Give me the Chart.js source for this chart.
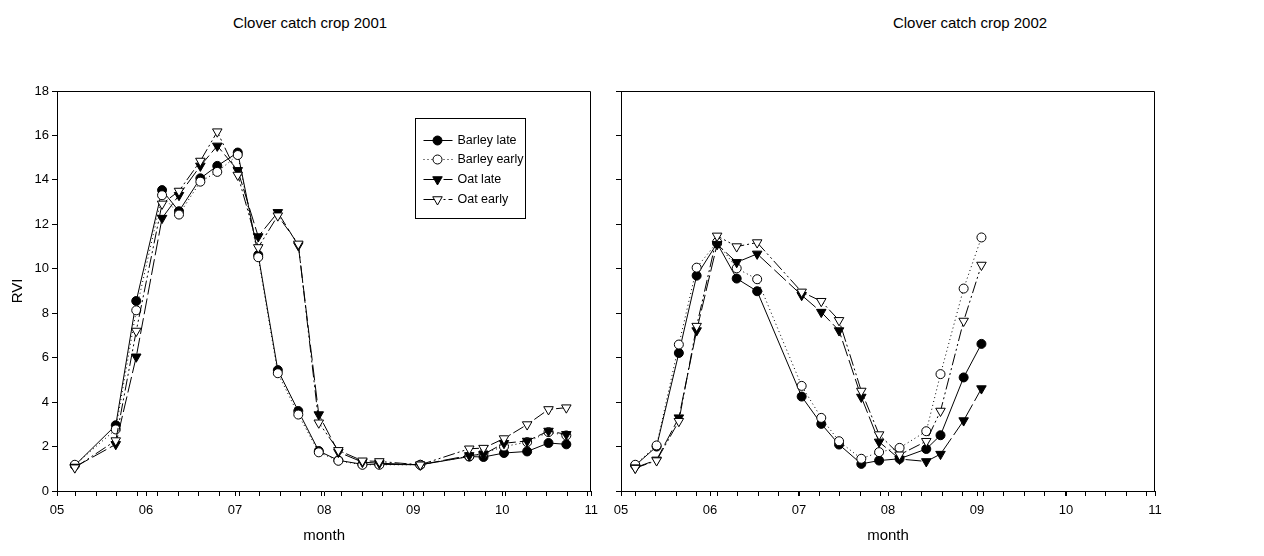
<!DOCTYPE html>
<html>
<head>
<meta charset="utf-8">
<script src="https://cdn.jsdelivr.net/npm/chart.js@4.4.1/dist/chart.umd.min.js"></script>
<style>
  body { margin: 0; background: #fff; width: 1264px; height: 556px; position: relative; overflow: hidden; font-family: Arial, "Liberation Sans", sans-serif; }
  .panel { position: absolute; top: 0; height: 556px; }
  .ttl { position: absolute; top: 14px; font-size: 15px; color: #000; transform: translateX(-50%); white-space: nowrap; }
</style>
</head>
<body>
<div class="ttl" style="left:310px">Clover catch crop 2001</div>
<div class="ttl" style="left:970px">Clover catch crop 2002</div>
<div class="panel" style="left:0;width:605px"><canvas id="c2001"></canvas></div>
<div class="panel" style="left:605px;width:565px"><canvas id="c2002"></canvas></div>
<script>
// tick labels
const monthValues = [5, 6, 7, 8, 9, 10, 11];
const monthLabels = ['05', '06', '07', '08', '09', '10', '11'];
const seriesNames = ['Barley late', 'Barley early', 'Oat late', 'Oat early'];

// 2001 (x = month as decimal)
const dates2001 = [5.20, 5.66, 5.89, 6.18, 6.37, 6.61, 6.80, 7.03, 7.26, 7.48, 7.71, 7.94, 8.16, 8.43, 8.62, 9.08, 9.63, 9.79, 10.02, 10.28, 10.52, 10.72];
const barleyLate2001  = [1.15, 2.96, 8.55, 13.54, 12.59, 14.07, 14.63, 15.23, 10.62, 5.44, 3.60, 1.80, 1.38, 1.20, 1.20, 1.18, 1.55, 1.53, 1.71, 1.78, 2.16, 2.10];
const barleyEarly2001 = [1.18, 2.77, 8.13, 13.31, 12.44, 13.92, 14.36, 15.12, 10.52, 5.30, 3.44, 1.74, 1.36, 1.18, 1.18, 1.18, 1.56, 1.70, 2.00, 2.20, 2.65, 2.50];
const oatLate2001     = [1.08, 2.10, 6.04, 12.28, 13.31, 14.63, 15.53, 14.43, 11.45, 12.54, 11.05, 3.44, 1.75, 1.30, 1.25, 1.18, 1.60, 1.65, 2.15, 2.25, 2.70, 2.55];
const oatEarly2001    = [1.05, 2.27, 7.20, 12.92, 13.50, 14.85, 16.17, 14.22, 10.96, 12.39, 11.12, 3.07, 1.83, 1.36, 1.33, 1.18, 1.90, 1.93, 2.36, 2.99, 3.67, 3.75];

// 2002
const dates2002 = [5.16, 5.40, 5.65, 5.85, 6.08, 6.30, 6.53, 7.03, 7.25, 7.45, 7.70, 7.90, 8.13, 8.43, 8.59, 8.85, 9.05];
const barleyLate2002  = [1.15, 2.00, 6.21, 9.69, 11.15, 9.56, 8.99, 4.25, 3.02, 2.09, 1.22, 1.37, 1.45, 1.89, 2.51, 5.11, 6.62];
const barleyEarly2002 = [1.18, 2.05, 6.59, 10.05, 11.20, 10.02, 9.53, 4.73, 3.29, 2.24, 1.45, 1.75, 1.94, 2.69, 5.26, 9.11, 11.41];
const oatLate2002     = [1.05, 1.40, 3.30, 7.22, 11.10, 10.29, 10.67, 8.81, 8.05, 7.22, 4.23, 2.21, 1.44, 1.33, 1.66, 3.17, 4.61];
const oatEarly2002    = [1.03, 1.37, 3.14, 7.42, 11.48, 11.00, 11.18, 8.96, 8.54, 7.68, 4.50, 2.54, 1.63, 2.24, 3.60, 7.65, 10.17];

// marker / line look per series
const styles = [
  { pointStyle: 'circle',   fill: '#000', dash: [],                  radius: 4.5, rotation: 0 },
  { pointStyle: 'circle',   fill: '#fff', dash: [1, 3],              radius: 4.5, rotation: 0 },
  { pointStyle: 'triangle', fill: '#000', dash: [16, 4],             radius: 5.5, rotation: 180 },
  { pointStyle: 'triangle', fill: '#fff', dash: [12, 3, 2, 3, 2, 3], radius: 5.5, rotation: 180 },
];

function makeDatasets(dates, seriesList) {
  return seriesList.map((vals, i) => ({
    label: seriesNames[i],
    data: dates.map((x, j) => ({ x: x, y: vals[j] })),
    borderColor: '#000',
    borderWidth: 1,
    borderDash: styles[i].dash,
    backgroundColor: styles[i].fill,
    pointStyle: styles[i].pointStyle,
    pointRadius: styles[i].radius,
    pointRotation: styles[i].rotation,
    pointBorderWidth: 1,
    pointBorderColor: '#000',
    pointBackgroundColor: styles[i].fill,
    tension: 0,
    fill: false,
    order: 3 - i, // later series drawn on top
  }));
}

// weekly minor ticks plus month ticks
function weekTicks(start) {
  const t = [];
  for (let v = start; v <= 11.001; v += 7 / 30.44) t.push(v);
  return t;
}

// box around the plot (top + right sides)
const frame = {
  id: 'frame',
  afterDatasetsDraw(chart) {
    const { ctx, chartArea: a } = chart;
    ctx.save();
    ctx.strokeStyle = '#000';
    ctx.lineWidth = 1;
    const l = Math.round(a.left) + 0.5, r = Math.round(a.right) - 0.5;
    const t = Math.round(a.top) + 0.5, b = Math.round(a.bottom);
    ctx.beginPath();
    ctx.moveTo(l, t); ctx.lineTo(r, t); ctx.lineTo(r, b);
    ctx.stroke();
    ctx.restore();
  }
};

// legend box drawn inside the 2001 panel
const legendBox = {
  id: 'legendBox',
  afterDraw(chart) {
    const { ctx, chartArea: a } = chart;
    const bx = Math.round(a.left + 358) + 0.5, by = Math.round(a.top + 27) + 0.5;
    ctx.save();
    ctx.strokeStyle = '#000';
    ctx.lineWidth = 1;
    ctx.strokeRect(bx, by, 110, 100);
    ctx.font = '12.5px Arial, "Liberation Sans", sans-serif';
    ctx.textBaseline = 'middle';
    chart.data.datasets.forEach((ds, i) => {
      const y = Math.round(by + 21 + i * 19.7) + 0.5;
      ctx.setLineDash(ds.borderDash);
      ctx.beginPath();
      ctx.moveTo(bx + 8, y);
      ctx.lineTo(bx + 37, y);
      ctx.stroke();
      ctx.setLineDash([]);
      ctx.fillStyle = ds.pointBackgroundColor;
      ctx.strokeStyle = '#000';
      Chart.helpers.drawPoint(ctx, {
        pointStyle: ds.pointStyle, radius: ds.pointRadius,
        rotation: ds.pointRotation, borderWidth: 1
      }, bx + 22, y);
      ctx.fillStyle = '#000';
      ctx.fillText(ds.label, bx + 42, y);
    });
    ctx.restore();
  }
};

function makeChart(id, dates, seriesList, opts) {
  const minorStart = opts.minorStart;
  return new Chart(document.getElementById(id), {
    type: 'line',
    data: { datasets: makeDatasets(dates, seriesList) },
    plugins: opts.legend ? [frame, legendBox] : [frame],
    options: {
      responsive: true,
      maintainAspectRatio: false,
      animation: false,
      layout: { padding: { top: 91, right: opts.padRight, bottom: 0, left: 0 } },
      plugins: { legend: { display: false }, tooltip: { enabled: false } },
      scales: {
        x: {
          type: 'linear',
          min: 5, max: 11,
          afterBuildTicks(s) {
            const vals = monthValues.concat(weekTicks(minorStart)).sort((p, q) => p - q);
            s.ticks = vals.map(v => ({ value: v }));
          },
          afterFit(s) { s.height = 65; },
          ticks: {
            autoSkip: false, maxRotation: 0, padding: 7, color: '#000',
            font: { size: 13, family: 'Arial' },
            callback: (v) => {
              const k = monthValues.indexOf(v);
              return k >= 0 ? monthLabels[k] : '';
            }
          },
          grid: { drawOnChartArea: false, tickLength: 5, color: '#000' },
          border: { color: '#000' },
          title: { display: true, text: 'month', color: '#000', font: { size: 15, family: 'Arial' }, padding: { top: 0, bottom: 11 } }
        },
        y: {
          min: 0, max: 18,
          afterFit(s) { s.width = opts.yWidth; },
          ticks: { stepSize: 2, padding: 3, color: '#000', display: opts.yLabels, font: { size: 13, family: 'Arial' } },
          grid: { drawOnChartArea: false, tickLength: 5, color: '#000' },
          border: { color: '#000' },
          title: { display: opts.yLabels, text: 'RVI', color: '#000', font: { size: 15, family: 'Arial' }, padding: { top: 9, bottom: 0 } }
        }
      }
    }
  });
}

makeChart('c2001', dates2001, [barleyLate2001, barleyEarly2001, oatLate2001, oatEarly2001],
  { minorStart: 5.21, legend: true, padRight: 13, yWidth: 57, yLabels: true });
makeChart('c2002', dates2002, [barleyLate2002, barleyEarly2002, oatLate2002, oatEarly2002],
  { minorStart: 5.16, legend: false, padRight: 15, yWidth: 16, yLabels: false });
</script>
</body>
</html>
